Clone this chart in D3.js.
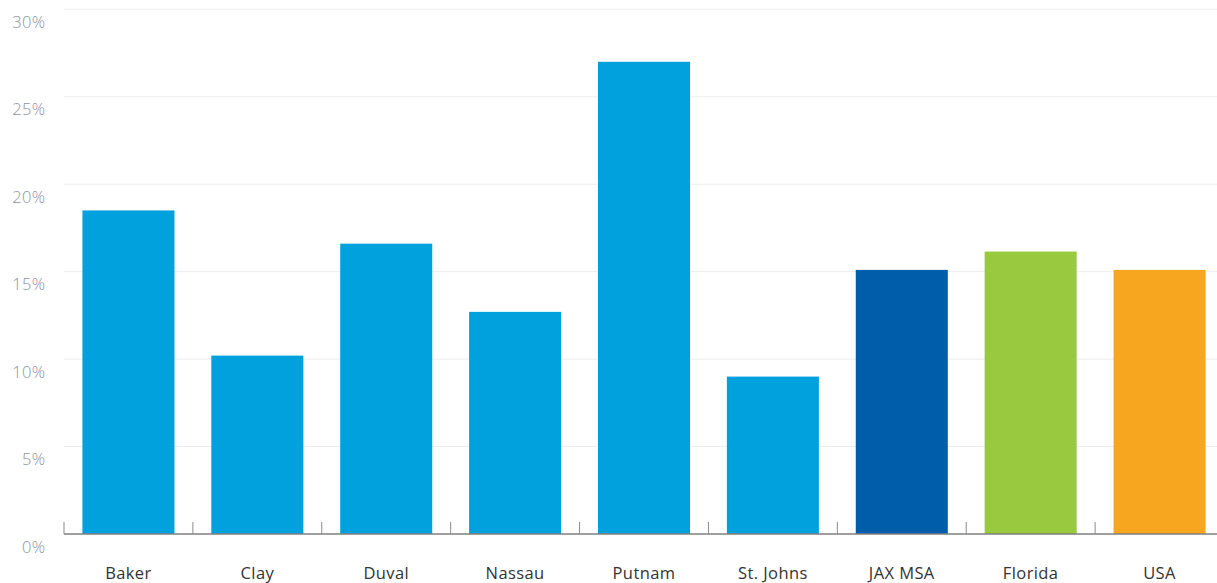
<!DOCTYPE html>
<html>
<head>
<meta charset="utf-8">
<script src="https://cdn.jsdelivr.net/npm/d3@7"></script>
<style>
  html, body { margin: 0; padding: 0; background: #fff; }
  svg { display: block; }
</style>
</head>
<body>
<svg id="chart" width="1217" height="583"></svg>
<script>
const categories = ["Baker", "Clay", "Duval", "Nassau", "Putnam", "St. Johns", "JAX MSA", "Florida", "USA"];
const values = [18.5, 10.2, 16.6, 12.7, 27.0, 9.0, 15.1, 16.15, 15.1];
const barColors = ["#00a1dd", "#00a1dd", "#00a1dd", "#00a1dd", "#00a1dd", "#00a1dd", "#005da9", "#99c93f", "#f6a71f"];
const yTicks = [0, 5, 10, 15, 20, 25, 30];

const W = 1217, H = 583;
const mLeft = 64, mRight = 1224, mTop = 9.3, mBottom = 534;

const svg = d3.select("#chart");

const x = d3.scaleBand().domain(categories).range([mLeft, mRight])
  .paddingInner(0.286).paddingOuter(0.143);
const y = d3.scaleLinear().domain([0, 30]).range([mBottom, mTop]);

// gridlines
svg.append("g").selectAll("line").data(yTicks.filter(d => d > 0)).join("line")
  .attr("x1", mLeft).attr("x2", W)
  .attr("y1", d => y(d)).attr("y2", d => y(d))
  .attr("stroke", "#ededed").attr("stroke-width", 1);

// y labels
svg.append("g").selectAll("text").data(yTicks).join("text")
  .attr("x", 45.5).attr("y", d => y(d) + 18.5)
  .attr("text-anchor", "end")
  .attr("font-family", "'Open Sans', Lato, sans-serif")
  .attr("font-weight", 300)
  .attr("font-size", 16.5)
  .attr("letter-spacing", 0.4)
  .attr("fill", "#8e939b")
  .text(d => d + "%");

// bars
svg.append("g").selectAll("rect").data(categories).join("rect")
  .attr("x", d => x(d))
  .attr("width", x.bandwidth())
  .attr("y", (d, i) => y(values[i]))
  .attr("height", (d, i) => y(0) - y(values[i]))
  .attr("fill", (d, i) => barColors[i]);

// axis line
svg.append("line")
  .attr("x1", mLeft).attr("x2", W)
  .attr("y1", mBottom).attr("y2", mBottom)
  .attr("stroke", "#7f7f7f").attr("stroke-width", 1.6);

// tick marks at band boundaries
svg.append("g").selectAll("line").data(categories).join("line")
  .attr("x1", d => x(d) + x.bandwidth() / 2 - x.step() / 2)
  .attr("x2", d => x(d) + x.bandwidth() / 2 - x.step() / 2)
  .attr("y1", mBottom).attr("y2", mBottom - 12)
  .attr("stroke", "#8a8a8a").attr("stroke-width", 1);

// x labels
svg.append("g").selectAll("text").data(categories).join("text")
  .attr("x", d => x(d) + x.bandwidth() / 2)
  .attr("y", 579)
  .attr("text-anchor", "middle")
  .attr("font-family", "'Open Sans', Lato, sans-serif")
  .attr("font-size", 16.5)
  .attr("letter-spacing", 0.4)
  .attr("fill", "#333")
  .text(d => d);
</script>
</body>
</html>
